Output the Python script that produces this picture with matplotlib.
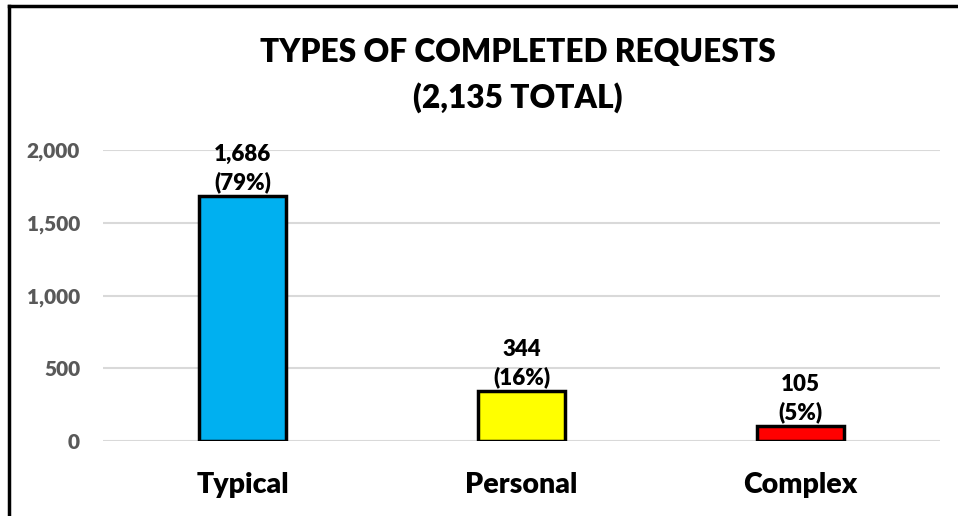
import matplotlib
matplotlib.use("Agg")
import matplotlib.pyplot as plt
from matplotlib.lines import Line2D

categories = ["Typical", "Personal", "Complex"]
values = [1686, 344, 105]
colors = ["#00B0F0", "#FFFF00", "#FF0000"]
yticks = [0, 500, 1000, 1500, 2000]
total = sum(values)

plt.rcParams['font.family'] = ['Lato', 'DejaVu Sans']
WT = "heavy"

W, H = 958, 516
fig = plt.figure(figsize=(W / 100, H / 100), dpi=100)
ax = fig.add_axes([103 / W, (H - 441) / H, (940 - 103) / W, (441 - 150) / H])

x = range(len(categories))
bars = ax.bar(x, values, width=0.315, color=colors, edgecolor="black", linewidth=2.5, zorder=3)
ax.set_xlim(-0.5, 2.5)
ax.set_ylim(0, 2000)
ax.set_yticks(yticks)
ax.set_yticklabels([f"{v:,}" for v in yticks], fontsize=15, fontweight=WT, color="#595959")
ax.set_xticks(list(x))
ax.set_xticklabels(categories, fontsize=20.5, fontweight=WT, color="black")
ax.tick_params(axis="both", length=0)
ax.tick_params(axis="y", pad=16.5)
ax.tick_params(axis="x", pad=22)
ax.grid(axis="y", color="#D9D9D9", linewidth=1.5, zorder=0)
for s in ax.spines.values():
    s.set_visible(False)

for xi, v in zip(x, values):
    pct = round(100 * v / total)
    ax.annotate(f"{v:,}\n({pct}%)", (xi, v), xytext=(0, 2), textcoords="offset points",
                ha="center", va="bottom", fontsize=16, fontweight=WT,
                linespacing=1.35, annotation_clip=False)

fig.text(518 / W, 1 - 52 / H, "TYPES OF COMPLETED REQUESTS", ha="center", va="center",
         fontsize=22.8, fontweight=WT)
fig.text(518 / W, 1 - 98 / H, f"({total:,} TOTAL)", ha="center", va="center",
         fontsize=22.8, fontweight=WT)

fig.add_artist(Line2D([9 / W, 9 / W], [0, 1 - 6 / H], color="black", linewidth=2.5,
                      transform=fig.transFigure))
fig.add_artist(Line2D([9 / W, 1], [1 - 6 / H, 1 - 6 / H], color="black", linewidth=2.5,
                      transform=fig.transFigure))

fig.savefig("out.png", dpi=100)
